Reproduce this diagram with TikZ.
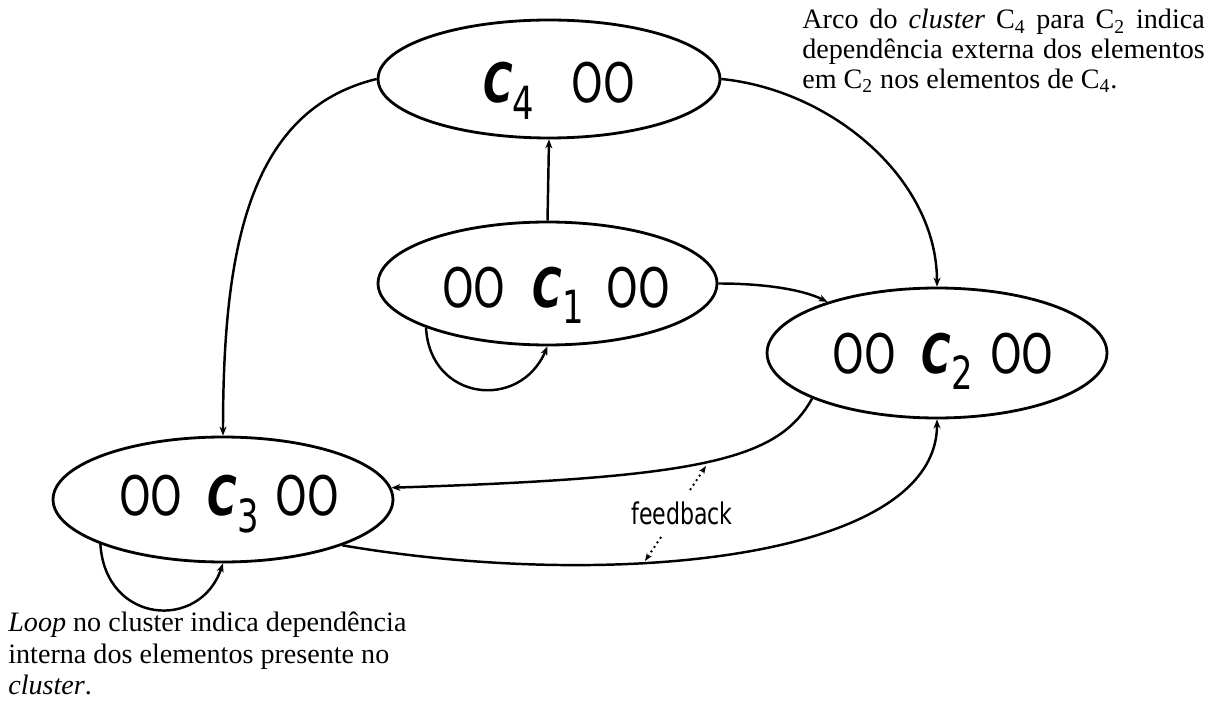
\documentclass[tikz,border=0pt]{standalone}
\usepackage{fontspec}
\setmainfont{Liberation Serif}
\newfontfamily\comic[FakeStretch=0.74]{DejaVu Sans}
\usetikzlibrary{arrows.meta,shapes.geometric}
\newcommand\clu[1]{{\bfseries\itshape C}\raisebox{-3.4mm}{\fontsize{26}{26}\selectfont #1}}
\begin{document}
\begin{tikzpicture}[x=0.02cm,y=-0.02cm,
  cluster/.style={draw,ellipse,line width=1.6pt,inner sep=0pt},
  ctext/.style={anchor=base,inner sep=0pt,font=\comic\fontsize{31}{31}\selectfont},
  edge/.style={line width=1.4pt,-{Stealth[length=1.8mm,width=1.4mm]}},
  fbarrow/.style={line width=1.1pt,dotted,-{Stealth[length=1.6mm,width=1.2mm]}},
  note/.style={inner sep=0pt,align=left,font=\fontsize{16}{16.9}\selectfont}]
\useasboundingbox (0,0) rectangle (1209,702);
% clusters
\node[cluster,minimum width=6.84cm,minimum height=2.36cm] (c4) at (549,79) {};
\node[cluster,minimum width=6.78cm,minimum height=2.46cm] (c1) at (547.5,283.5) {};
\node[cluster,minimum width=6.8cm,minimum height=2.6cm] (c2) at (937,353) {};
\node[cluster,minimum width=6.8cm,minimum height=2.5cm] (c3) at (223,499.5) {};
% cluster texts
\node[ctext] (t4) at (559,103) {\clu{4}\hspace{7.4mm}OO};
\node[ctext] (t1) at (556,307) {OO\hspace{5.4mm}\clu{1}\hspace{4.6mm}OO};
\node[ctext] (t2) at (943,373) {OO\hspace{5.2mm}\clu{2}\hspace{3.4mm}OO};
\node[ctext] (t3) at (229,515) {OO\hspace{5mm}\clu{3}\hspace{3.4mm}OO};
% edges
\draw[edge] (c1.north) -- (c4.south);
\draw[edge] (c4.west) .. controls +(-128,31) and +(0,-187) .. (c3.north);
\draw[edge] (c4.east) .. controls +(110,11) and +(0,-108) .. (c2.north);
\draw[edge] (c1.east) .. controls +(43,0) and +(-26,-13) .. (c2.155);
\draw[edge] (c2.200) .. controls +(-34,62) and +(309,-10) .. (c3.4);
\draw[edge] (c3.339.5) .. controls +(270,46) and +(0,140) .. (c2.south);
\draw[edge] (c1.200) .. controls +(4,73) and +(-28,65) .. (c1.south);
\draw[edge] (c3.200) .. controls +(5,80) and +(-23,68) .. (c3.south);
% feedback
\node[inner sep=0pt,font=\comic\fontsize{17}{17}\selectfont] (fb) at (682,513) {feedback};
\coordinate (fs1) at (690,490);
\coordinate (fe1) at (706,466);
\coordinate (fs2) at (661,537);
\coordinate (fe2) at (645,561);
\draw[fbarrow] (fs1) -- (fe1);
\draw[fbarrow] (fs2) -- (fe2);
% notes
\node[note,anchor=north west] (n1) at (802,9)
  {\makebox[8.05cm][s]{Arco do \textit{cluster} C\textsubscript{4} para C\textsubscript{2} indica}\\
   \makebox[8.05cm][s]{dependência externa dos elementos}\\
   em C\textsubscript{2} nos elementos de C\textsubscript{4}.};
\node[note,anchor=north west,font=\fontsize{16}{17.9}\selectfont] (n2) at (8,612)
  {\textit{Loop} no cluster indica dependência\\
   interna dos elementos presente no\\
   \textit{cluster}.};
\end{tikzpicture}
\end{document}
